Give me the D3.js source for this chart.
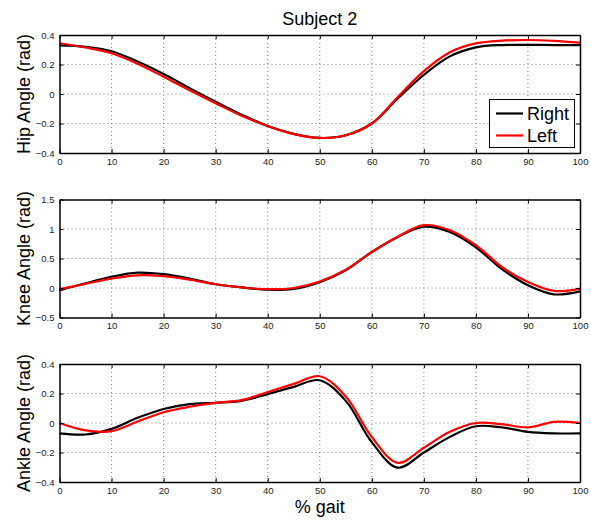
<!DOCTYPE html>
<html>
<head>
<meta charset="utf-8">
<script src="https://cdn.jsdelivr.net/npm/d3@7"></script>
<style>
  body { margin: 0; background: #fff; }
  svg { font-family: "Liberation Sans", Arial, Helvetica, sans-serif; }
</style>
</head>
<body>
<div id="chart"></div>
<script>
var gaitPct = [0, 5, 10, 15, 20, 25, 30, 35, 40, 45, 50, 55, 60, 65, 70, 75, 80, 85, 90, 95, 100];

var hipRight = [0.33, 0.32, 0.29, 0.22, 0.136, 0.04, -0.052, -0.14, -0.217, -0.27, -0.298, -0.28, -0.2, -0.03, 0.13, 0.255, 0.316, 0.332, 0.333, 0.332, 0.332];
var hipLeft = [0.344, 0.315, 0.276, 0.205, 0.117, 0.025, -0.063, -0.148, -0.217, -0.272, -0.298, -0.28, -0.2, -0.02, 0.155, 0.283, 0.343, 0.362, 0.366, 0.36, 0.348];

var kneeRight = [-0.04, 0.08, 0.19, 0.26, 0.235, 0.16, 0.064, 0.01, -0.03, -0.015, 0.1, 0.3, 0.61, 0.865, 1.04, 0.95, 0.69, 0.32, 0.046, -0.107, -0.056];
var kneeLeft = [-0.02, 0.07, 0.16, 0.215, 0.2, 0.14, 0.064, 0.01, -0.02, 0.0, 0.11, 0.31, 0.61, 0.87, 1.065, 0.98, 0.725, 0.356, 0.1, -0.05, -0.01];

var ankleRight = [-0.07, -0.078, -0.04, 0.035, 0.095, 0.128, 0.137, 0.15, 0.196, 0.245, 0.29, 0.15, -0.13, -0.303, -0.2, -0.094, -0.022, -0.03, -0.06, -0.07, -0.071];
var ankleLeft = [0.0, -0.05, -0.055, 0.01, 0.073, 0.11, 0.137, 0.155, 0.21, 0.265, 0.317, 0.18, -0.095, -0.27, -0.168, -0.06, 0.0, -0.008, -0.03, 0.008, 0.0];

var xTicks = [0, 10, 20, 30, 40, 50, 60, 70, 80, 90, 100];
var hipTicks = [-0.4, -0.2, 0, 0.2, 0.4];
var kneeTicks = [-0.5, 0, 0.5, 1, 1.5];
var ankleTicks = [-0.4, -0.2, 0, 0.2, 0.4];

var seriesNames = ["Right", "Left"];
var seriesColors = ["#000000", "#ff0000"];

var width = 591;
var height = 520;
var left = 59.5;
var right = 580;
var panelH = 118;
var panelTops = [35, 199.5, 364];

var svg = d3.select("#chart")
  .append("svg")
  .attr("width", width)
  .attr("height", height);

var xScale = d3.scaleLinear().domain([0, 100]).range([left, right]);

function fmt(v) {
  if (v === 0) return "0";
  return String(v).replace("-", "\u2212");
}

function drawPanel(top, yDomain, yTicks, rightVals, leftVals, label) {
  var yScale = d3.scaleLinear().domain(yDomain).range([top + panelH, top]);
  var g = svg.append("g");

  // dotted grid
  g.selectAll(".gx")
    .data(xTicks.slice(1, -1))
    .enter()
    .append("line")
    .attr("x1", d => xScale(d))
    .attr("x2", d => xScale(d))
    .attr("y1", top)
    .attr("y2", top + panelH)
    .attr("stroke", "#666")
    .attr("stroke-width", 0.8)
    .attr("stroke-dasharray", "1,3");

  g.selectAll(".gy")
    .data(yTicks.slice(1, -1))
    .enter()
    .append("line")
    .attr("x1", left)
    .attr("x2", right)
    .attr("y1", d => yScale(d))
    .attr("y2", d => yScale(d))
    .attr("stroke", "#666")
    .attr("stroke-width", 0.8)
    .attr("stroke-dasharray", "1,3");

  var line = d3.line()
    .x((d, i) => xScale(gaitPct[i]))
    .y(d => yScale(d))
    .curve(d3.curveCatmullRom.alpha(0.5));

  [rightVals, leftVals].forEach(function(vals, i) {
    g.append("path")
      .attr("d", line(vals))
      .attr("fill", "none")
      .attr("stroke", seriesColors[i])
      .attr("stroke-width", 2.2);
  });

  // inward ticks on all four sides
  var xAxisB = d3.axisBottom(xScale).tickValues(xTicks).tickSizeInner(-4).tickSizeOuter(0).tickPadding(5);
  var xAxisT = d3.axisTop(xScale).tickValues(xTicks).tickSizeInner(-4).tickSizeOuter(0).tickFormat("");
  var yAxisL = d3.axisLeft(yScale).tickValues(yTicks).tickSizeInner(-4).tickSizeOuter(0).tickPadding(5).tickFormat(fmt);
  var yAxisR = d3.axisRight(yScale).tickValues(yTicks).tickSizeInner(-4).tickSizeOuter(0).tickFormat("");

  var axes = [
    g.append("g").attr("transform", `translate(0, ${top + panelH})`).call(xAxisB),
    g.append("g").attr("transform", `translate(0, ${top})`).call(xAxisT),
    g.append("g").attr("transform", `translate(${left}, 0)`).call(yAxisL),
    g.append("g").attr("transform", `translate(${right}, 0)`).call(yAxisR)
  ];
  axes.forEach(function(a) {
    a.select(".domain").attr("stroke", "#000").attr("stroke-width", 1.5);
    a.selectAll(".tick line").attr("stroke", "#000");
    a.selectAll(".tick text").attr("fill", "#222").style("font-size", "9.5px");
  });

  svg.append("text")
    .attr("transform", `translate(30, ${top + panelH / 2}) rotate(-90)`)
    .attr("text-anchor", "middle")
    .style("font-size", "18px")
    .attr("fill", "#000")
    .text(label);
}

drawPanel(panelTops[0], [-0.4, 0.4], hipTicks, hipRight, hipLeft, "Hip Angle (rad)");
drawPanel(panelTops[1], [-0.5, 1.5], kneeTicks, kneeRight, kneeLeft, "Knee Angle (rad)");
drawPanel(panelTops[2], [-0.4, 0.4], ankleTicks, ankleRight, ankleLeft, "Ankle Angle (rad)");

svg.append("text")
  .attr("x", (left + right) / 2)
  .attr("y", 25)
  .attr("text-anchor", "middle")
  .style("font-size", "18px")
  .text("Subject 2");

svg.append("text")
  .attr("x", (left + right) / 2)
  .attr("y", 513)
  .attr("text-anchor", "middle")
  .style("font-size", "18px")
  .text("% gait");

// legend
var legend = svg.append("g");
legend.append("rect")
  .attr("x", 489.5)
  .attr("y", 99.5)
  .attr("width", 85)
  .attr("height", 48)
  .attr("fill", "#fff")
  .attr("stroke", "#000")
  .attr("stroke-width", 1);

var legendItems = legend.selectAll(".legend")
  .data(seriesNames)
  .enter()
  .append("g")
  .attr("class", "legend")
  .attr("transform", (d, i) => `translate(0, ${113.5 + i * 22})`);

legendItems.append("line")
  .attr("x1", 496)
  .attr("x2", 523)
  .attr("stroke", (d, i) => seriesColors[i])
  .attr("stroke-width", 2.2);

legendItems.append("text")
  .attr("x", 527)
  .attr("y", 6)
  .style("font-size", "18px")
  .text(d => d);
</script>
</body>
</html>
